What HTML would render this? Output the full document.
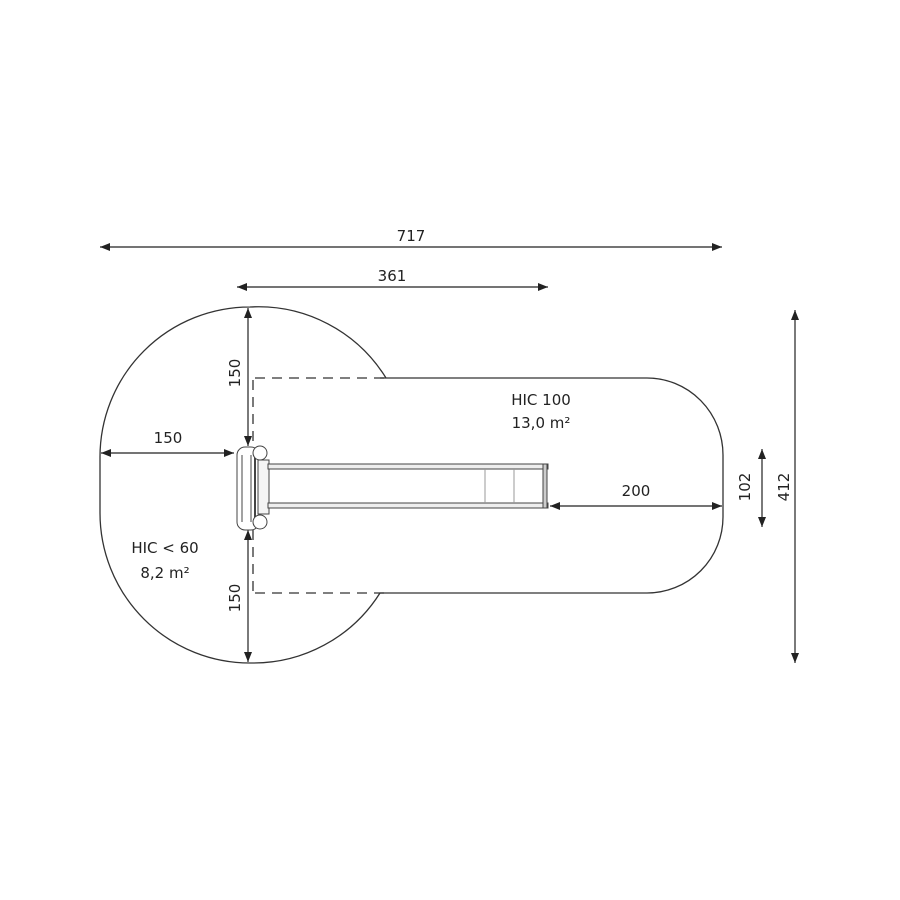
<!DOCTYPE html>
<html><head><meta charset="utf-8"><style>
html,body{margin:0;padding:0;background:#fff;}
svg{display:block;}
text{font-family:"DejaVu Sans","Liberation Sans",sans-serif;font-size:15px;fill:#222;}
</style></head><body>
<svg width="900" height="900" viewBox="0 0 900 900" xmlns="http://www.w3.org/2000/svg">
<defs>
<marker id="a" viewBox="0 0 10 10" refX="10" refY="5" markerWidth="10" markerHeight="10" markerUnits="userSpaceOnUse" orient="auto-start-reverse">
<path d="M0,1 L10,5 L0,9 Z" fill="#222"/></marker>
</defs>
<g fill="none" stroke="#333" stroke-width="1.3">
<!-- outline -->
<path d="M380,378 L647,378 A76,77 0 0 1 723,455 L723,517 A76,76 0 0 1 647,593 L380,593 A150,150 0 0 1 250,663 A150,150 0 0 1 100,513 L100,457 A150,150 0 0 1 250,307 A150,150 0 0 1 386,378"/>
<!-- dashed -->
<g stroke-dasharray="10,7">
<path d="M255,378 L386,378"/>
<path d="M255,593 L384,593"/>
<path d="M253,380 L253,446"/>
<path d="M253,530 L253,591"/>
</g>
</g>
<!-- dimensions -->
<g stroke="#222" stroke-width="1.2" marker-start="url(#a)" marker-end="url(#a)">
<line x1="100" y1="247" x2="722" y2="247"/>
<line x1="237" y1="287" x2="548" y2="287"/>
<line x1="795" y1="310" x2="795" y2="663"/>
<line x1="762" y1="449" x2="762" y2="527"/>
<line x1="550" y1="506" x2="722" y2="506"/>
<line x1="101" y1="453" x2="234" y2="453"/>
<line x1="248" y1="308" x2="248" y2="446"/>
<line x1="248" y1="530" x2="248" y2="662"/>
</g>
<!-- slide structure -->
<g stroke="#444" stroke-width="1" fill="#fff">
<rect x="237" y="447" width="22" height="83" rx="8"/>
<line x1="242" y1="455" x2="242" y2="522"/>
<line x1="251" y1="455" x2="251" y2="522"/>
<line x1="255" y1="455" x2="255" y2="522" stroke-width="2"/>
<rect x="258" y="460" width="11" height="54" fill="#f4f4f4"/>
<circle cx="260" cy="453" r="7"/>
<circle cx="260" cy="522" r="7"/>
<rect x="268" y="464" width="280" height="5" fill="#eee"/>
<rect x="268" y="503" width="280" height="5" fill="#eee"/>
<line x1="485" y1="469" x2="485" y2="503" stroke="#999"/>
<line x1="514" y1="469" x2="514" y2="503" stroke="#999"/>
<rect x="543" y="464" width="4" height="44" fill="#ccc"/>
</g>
<!-- labels -->
<text x="411" y="241" text-anchor="middle">717</text>
<text x="392" y="281" text-anchor="middle">361</text>
<text x="168" y="443" text-anchor="middle">150</text>
<text x="636" y="496" text-anchor="middle">200</text>
<text x="541" y="405" text-anchor="middle">HIC 100</text>
<text x="541" y="428" text-anchor="middle">13,0 m²</text>
<text x="165" y="553" text-anchor="middle">HIC &lt; 60</text>
<text x="165" y="578" text-anchor="middle">8,2 m²</text>
<text transform="translate(240,373) rotate(-90)" text-anchor="middle">150</text>
<text transform="translate(240,598) rotate(-90)" text-anchor="middle">150</text>
<text transform="translate(750,487) rotate(-90)" text-anchor="middle">102</text>
<text transform="translate(789,487) rotate(-90)" text-anchor="middle">412</text>
</svg>
</body></html>
